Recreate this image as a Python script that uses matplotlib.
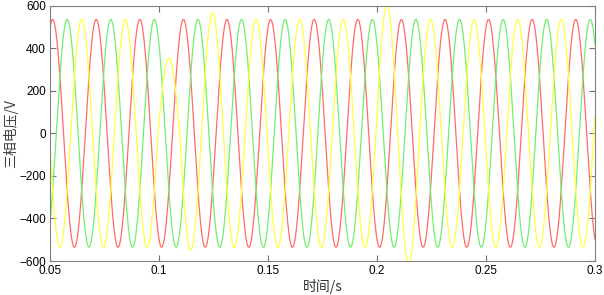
import numpy as np
import matplotlib
matplotlib.use("Agg")
from matplotlib import pyplot as plt

plt.rcParams['font.family'] = ['Liberation Sans', 'Noto Sans CJK SC', 'DejaVu Sans']

# wave parameters
freq = 50.0
amp = 535.0
red_peak_t = 0.0512          # first red peak
phase_lag = [0.0, 1 / 150.0, 2 / 150.0]   # red, green, yellow lag (s)
colors = ['#ff6a6a', '#70ee70', '#ffff40']

# yellow half-cycle extremes that differ from normal (centre time, value)
yellow_dist_t = [0.1045, 0.1145, 0.1245, 0.2045, 0.2145]
yellow_dist_v = [354, -550, 567, 600, -615]

xticks = [0.05, 0.1, 0.15, 0.2, 0.25, 0.3]
xlabels = ['0.05', '0.1', '0.15', '0.2', '0.25', '0.3']
yticks = [-600, -400, -200, 0, 200, 400, 600]

t = np.linspace(0.05, 0.3, 6000)
half = 0.5 / freq

fig = plt.figure(figsize=(6.04, 2.95), dpi=100)
ax = fig.add_axes([0.0828, 0.115, 0.9022, 0.866])

for i, c in enumerate(colors):
    t0 = red_peak_t + phase_lag[i]
    y = amp * np.cos(2 * np.pi * freq * (t - t0))
    if i == 2:
        scale = np.ones_like(t)
        for tc, v in zip(yellow_dist_t, yellow_dist_v):
            m = np.abs(t - tc) <= half / 2
            scale[m] = abs(v) / amp
        y = y * scale
    ax.plot(t, y, color=c, lw=0.9)

ax.set_xlim(0.05, 0.3)
ax.set_ylim(-600, 600)
ax.set_xticks(xticks)
ax.set_xticklabels(xlabels)
ax.set_yticks(yticks)
ax.tick_params(direction='in', top=True, right=True, labelsize=8.5,
               length=4, color='#707070', pad=3)
for s in ax.spines.values():
    s.set_color('#808080')
ax.set_xlabel('时间/s', fontsize=10, color='#303030',
              family=['Noto Sans CJK SC', 'DejaVu Sans'], labelpad=1)
ax.set_ylabel('三相电压/V', fontsize=10, color='#404040',
              family=['Noto Sans CJK SC', 'DejaVu Sans'], labelpad=1)

fig.savefig('out.png', dpi=100)
